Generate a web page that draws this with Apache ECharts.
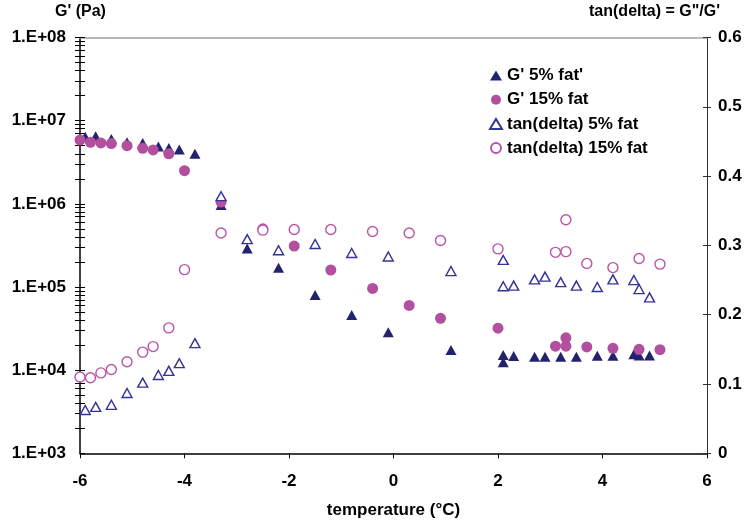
<!DOCTYPE html>
<html>
<head>
<meta charset="utf-8">
<script src="https://cdn.jsdelivr.net/npm/echarts@6/dist/echarts.min.js"></script>
<style>html,body{margin:0;padding:0;background:#fff;}#chart{width:745px;height:520px;}</style>
</head>
<body>
<div id="chart"></div>
<script>
// ---- data ----
const temp5 = [-5.9,-5.7,-5.4,-5.1,-4.8,-4.5,-4.3,-4.1,-3.8,-3.3,-2.8,-2.2,-1.5,-0.8,-0.1,1.1,2.1,2.1,2.3,2.7,2.9,3.2,3.5,3.9,4.2,4.6,4.7,4.9];
const gPrime5 = [6.4e6,6.5e6,6.0e6,5.5e6,5.4e6,4.9e6,4.7e6,4.5e6,4.0e6,9.7e5,2.9e5,1.7e5,8.0e4,4.6e4,2.85e4,1.75e4,1.52e4,1.24e4,1.48e4,1.45e4,1.45e4,1.45e4,1.45e4,1.49e4,1.49e4,1.55e4,1.5e4,1.5e4];
const tanDelta5 = [0.0625,0.067,0.070,0.087,0.102,0.113,0.119,0.130,0.159,0.371,0.309,0.293,0.302,0.289,0.284,0.263,0.279,0.241,0.242,0.251,0.255,0.247,0.242,0.240,0.251,0.250,0.237,0.225];
const temp15 = [-6.0,-5.8,-5.6,-5.4,-5.1,-4.8,-4.6,-4.3,-4.0,-3.3,-2.5,-1.9,-1.2,-0.4,0.3,0.9,2.0,3.1,3.3,3.3,3.7,4.2,4.7,5.1];
const gPrime15 = [5.85e6,5.5e6,5.4e6,5.3e6,5.0e6,4.65e6,4.45e6,4.0e6,2.5e6,1.05e6,5.0e5,3.1e5,1.6e5,9.6e4,6.0e4,4.2e4,3.2e4,1.94e4,2.45e4,1.94e4,1.9e4,1.83e4,1.78e4,1.76e4];
const tanDelta15 = [0.110,0.109,0.116,0.121,0.132,0.146,0.154,0.181,0.265,0.318,0.322,0.323,0.323,0.320,0.318,0.307,0.295,0.290,0.337,0.291,0.274,0.268,0.281,0.273];
const seriesNames = ["G' 5% fat'", "G' 15% fat", "tan(delta) 5% fat", "tan(delta) 15% fat"];
const xTitle = 'temperature (°C)';
const leftTitle = "G' (Pa)";
const rightTitle = 'tan(delta) = G"/G\'';

// log-axis tick positions (1..9 x 10^n)
const logTicks = [];
for (let e = 3; e < 8; e++) { for (let k = 1; k <= 9; k++) logTicks.push(k * Math.pow(10, e)); }
logTicks.push(1e8);

const FONT = 'Liberation Sans, Arial, sans-serif';
const pairs = (xs, ys) => xs.map((x, i) => [x, ys[i]]);
const navy = '#22226e', navyOpen = '#333399', mag = '#b24f9f', magOpen = '#b955a8';

const chart = echarts.init(document.getElementById('chart'));
const labelStyle = {fontSize: 17, fontWeight: 'bold', color: '#000', fontFamily: FONT};
chart.setOption({
  animation: false,
  backgroundColor: '#fff',
  grid: {left: 80, right: 38, top: 37.5, bottom: 66.7, containLabel: false, outerBoundsMode: 'none'},
  graphic: [
    {type: 'text', left: 55, top: 4, style: {text: leftTitle, font: 'bold 16px ' + FONT, fill: '#000'}},
    {type: 'text', right: 25, top: 4, style: {text: rightTitle, font: 'bold 16px ' + FONT, fill: '#000'}}
  ],
  legend: {
    orient: 'vertical', left: 484, top: 62, itemWidth: 12, itemHeight: 10, itemGap: 7.2,
    textStyle: {fontSize: 17, fontWeight: 'bold', color: '#000', fontFamily: FONT, lineHeight: 17},
    data: seriesNames
  },
  xAxis: [
    {type: 'value', min: -6, max: 6, interval: 2,
     axisLine: {onZero: false, lineStyle: {color: '#000', width: 1.5}},
     axisTick: {length: 5, lineStyle: {color: '#000', width: 1}},
     axisLabel: Object.assign({margin: 20}, labelStyle),
     splitLine: {show: false},
     name: xTitle, nameLocation: 'middle', nameGap: 49, nameTextStyle: labelStyle},
    {type: 'value', position: 'top', min: -6, max: 6, interval: 2,
     axisLine: {onZero: false, show: true, lineStyle: {color: '#a0a0a0', width: 1.5}},
     axisTick: {show: false}, axisLabel: {show: false}, splitLine: {show: false}}
  ],
  yAxis: [
    {type: 'log', logBase: 10, min: 1e3, max: 1e8, position: 'left',
     axisLine: {show: true, onZero: false, lineStyle: {color: '#000', width: 1.5}},
     axisTick: {show: true, length: 5, customValues: logTicks, lineStyle: {color: '#000', width: 1}},
     axisLabel: Object.assign({margin: 14, formatter: v => {
        const e = Math.round(Math.log10(v));
        return '1.E+' + String(e).padStart(2, '0');
     }}, labelStyle),
     splitLine: {show: false}},
    {type: 'log', logBase: 10, min: 1e3, max: 1e8, position: 'left',
     axisLine: {show: false, onZero: false},
     axisTick: {show: true, inside: true, length: 5, customValues: logTicks, lineStyle: {color: '#000', width: 1}},
     axisLabel: {show: false}, splitLine: {show: false}},
    {type: 'value', min: 0, max: 0.6, interval: 0.1, position: 'right',
     axisLine: {show: true, onZero: false, lineStyle: {color: '#333', width: 1}},
     axisTick: {show: true, length: 4, lineStyle: {color: '#333', width: 1}},
     axisLabel: Object.assign({margin: 11, formatter: v => v === 0 ? '0' : v.toFixed(1)}, labelStyle),
     splitLine: {show: false}},
    {type: 'value', min: 0, max: 0.6, interval: 0.1, position: 'right',
     axisLine: {show: false, onZero: false},
     axisTick: {show: true, inside: true, length: 4, lineStyle: {color: '#333', width: 1}},
     axisLabel: {show: false}, splitLine: {show: false}}
  ],
  series: [
    {name: seriesNames[0], type: 'scatter', yAxisIndex: 0, symbol: 'triangle', symbolSize: [11, 10],
     itemStyle: {color: navy, opacity: 1}, data: pairs(temp5, gPrime5)},
    {name: seriesNames[1], type: 'scatter', yAxisIndex: 0, symbol: 'circle', symbolSize: 11,
     itemStyle: {color: mag, opacity: 1}, data: pairs(temp15, gPrime15)},
    {name: seriesNames[2], type: 'scatter', yAxisIndex: 2, symbol: 'triangle', symbolSize: [10, 9],
     itemStyle: {color: '#fff', borderColor: navyOpen, borderWidth: 1.4, opacity: 1}, data: pairs(temp5, tanDelta5)},
    {name: seriesNames[3], type: 'scatter', yAxisIndex: 2, symbol: 'circle', symbolSize: 10,
     itemStyle: {color: '#fff', borderColor: magOpen, borderWidth: 1.4, opacity: 1}, data: pairs(temp15, tanDelta15)}
  ]
});
</script>
</body>
</html>
